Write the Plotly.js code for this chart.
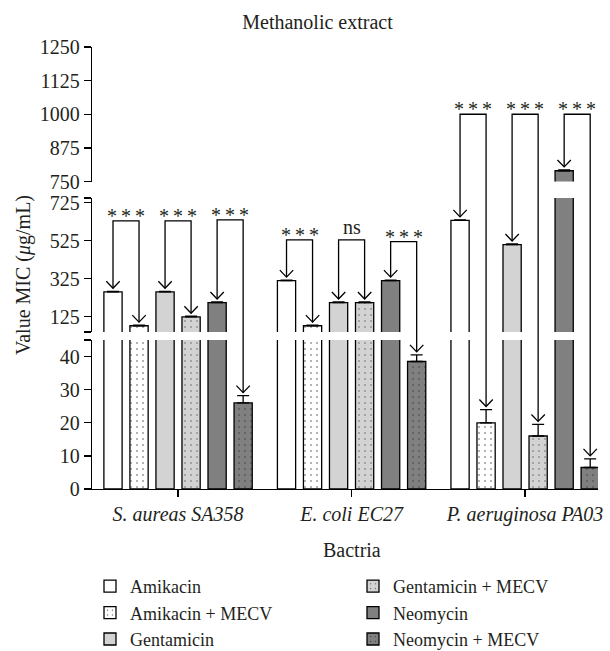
<!DOCTYPE html>
<html><head><meta charset="utf-8">
<script src="https://cdn.plot.ly/plotly-3.0.1.min.js"></script>
<style>body{margin:0;background:#fff}</style>
</head><body><div id="chart" style="width:610px;height:651px"></div>
<script>
const categories = ['S. aureas SA358', 'E. coli EC27', 'P. aeruginosa PA03'];
const seriesNames = ['Amikacin', 'Amikacin + MECV', 'Gentamicin', 'Gentamicin + MECV', 'Neomycin', 'Neomycin + MECV'];
const amikacin = [256, 315, 632];
const amikacinMECV = [78, 78, 20];
const gentamicin = [256, 200, 505];
const gentamicinMECV = [125, 200, 16];
const neomycin = [200, 315, 790];
const neomycinMECV = [26, 38.5, 6.5];
const amikacinErr = [3, 3, 3];
const amikacinMECVErr = [3, 3, 4];
const gentamicinErr = [3, 3, 3];
const gentamicinMECVErr = [3, 3, 3.5];
const neomycinErr = [3, 3, 3];
const neomycinMECVErr = [2.2, 2, 2.6];
const tickBottom = [0, 10, 20, 30, 40];
const tickMiddle = [125, 325, 525, 725];
const tickTop = [750, 875, 1000, 1125, 1250];
const breakLow = 45, breakHigh = 750, yMax = 1250;
const sigLabels = [['***', '***', '***'], ['***', 'ns', '***'], ['***', '***', '***']];
const bracketLevels = [[630, 630, 635], [530, 530, 520], [1000, 1000, 1000]];

const values = [amikacin, amikacinMECV, gentamicin, gentamicinMECV, neomycin, neomycinMECV];
const errors = [amikacinErr, amikacinMECVErr, gentamicinErr, gentamicinMECVErr, neomycinErr, neomycinMECVErr];

const FONT = '"Liberation Serif", "Times New Roman", serif';
const TXT = '#231f20';
const W = 610, H = 651;
const margin = {l: 92, r: 12, t: 47, b: 162};
const plotW = W - margin.l - margin.r, plotH = H - margin.t - margin.b;
const xRange = [-0.496, 2.42];
const bargap = 0.1, bargroupgap = 0.3;
const slot = (1 - bargap) / 6;

const segments = [
  {axis: 'y', key: 'yaxis', range: [0, breakLow], domain: [0, 0.3371]},
  {axis: 'y2', key: 'yaxis2', range: [breakLow, breakHigh], domain: [0.3552, 0.6584]},
  {axis: 'y3', key: 'yaxis3', range: [breakHigh, yMax], domain: [0.6957, 1]}
];
function toPaper(v) {
  const s = v <= breakLow ? segments[0] : (v <= breakHigh ? segments[1] : segments[2]);
  return s.domain[0] + (v - s.range[0]) / (s.range[1] - s.range[0]) * (s.domain[1] - s.domain[0]);
}
const xPx = plotW / (xRange[1] - xRange[0]);
const pxY = 1 / plotH;

const styles = [
  {color: 'white'},
  {color: 'white', pattern: {shape: '.', fgcolor: '#555', bgcolor: 'white', size: 6, solidity: 0.06}},
  {color: '#d3d3d3'},
  {color: '#d3d3d3', pattern: {shape: '.', fgcolor: '#666', bgcolor: '#d3d3d3', size: 6, solidity: 0.06}},
  {color: '#808080'},
  {color: '#808080', pattern: {shape: '.', fgcolor: '#404040', bgcolor: '#808080', size: 6, solidity: 0.06}}
];

const traces = [];
segments.forEach((seg, si) => {
  values.forEach((vals, k) => {
    const marker = {color: styles[k].color, line: {color: 'black', width: 1.3}};
    if (styles[k].pattern) marker.pattern = styles[k].pattern;
    traces.push({
      type: 'bar', x: [0, 1, 2], y: vals, xaxis: 'x', yaxis: seg.axis,
      name: seriesNames[k], marker: marker,
      error_y: {type: 'data', array: errors[k], arrayminus: [0, 0, 0], symmetric: false,
                color: 'black', thickness: 1.3, width: 6},
      showlegend: si === 0, legend: k < 3 ? 'legend' : 'legend2',
      hoverinfo: 'skip'
    });
  });
});

const shapes = [];
const annotations = [];
const dx = 6.7 / xPx, chevH = 7 * pxY, gap = 3 * pxY;
for (let c = 0; c < categories.length; c++) {
  for (let p = 0; p < 3; p++) {
    const ia = 2 * p, ib = 2 * p + 1;
    const xa = c + (ia - 2.5) * slot, xb = c + (ib - 2.5) * slot;
    const ta = toPaper(values[ia][c] + errors[ia][c]) + gap;
    const tb = toPaper(values[ib][c] + errors[ib][c]) + gap;
    const yb = toPaper(bracketLevels[c][p]);
    shapes.push({type: 'path', xref: 'x', yref: 'paper', line: {color: 'black', width: 1.3},
      path: `M${xa},${ta} L${xa},${yb} L${xb},${yb} L${xb},${tb}`});
    [[xa, ta], [xb, tb]].forEach(([x, t]) => {
      shapes.push({type: 'path', xref: 'x', yref: 'paper', line: {color: 'black', width: 1.3},
        path: `M${x - dx},${t + chevH} L${x},${t} L${x + dx},${t + chevH}`});
    });
    const lab = sigLabels[c][p];
    annotations.push({xref: 'x', yref: 'paper', x: (xa + xb) / 2, y: yb, yanchor: 'bottom',
      text: lab === '***' ? '*\u2009*\u2009*' : lab, showarrow: false, yshift: lab === '***' ? -8 : 0,
      font: {family: FONT, size: 20, color: TXT}});
  }
}
annotations.push({xref: 'paper', yref: 'paper', x: (23 - margin.l) / plotW, y: (489 - 275) / plotH,
  xanchor: 'center', yanchor: 'middle', textangle: -90, showarrow: false,
  text: 'Value MIC (<i>μ</i>g/mL)', font: {family: FONT, size: 20, color: TXT}});
annotations.push({xref: 'paper', yref: 'paper', x: (351.5 - margin.l) / plotW, y: -(550 - 489) / plotH,
  xanchor: 'center', yanchor: 'middle', showarrow: false,
  text: 'Bactria', font: {family: FONT, size: 20, color: TXT}});

const axisCommon = {showline: true, linecolor: 'black', linewidth: 1.3, ticks: 'outside', ticklen: 7,
  tickwidth: 1.3, tickcolor: 'black', showgrid: false, zeroline: false, fixedrange: true,
  tickfont: {family: FONT, size: 20, color: TXT}};

const legendCommon = {y: -(568 - 489) / plotH, xanchor: 'left', yanchor: 'top', orientation: 'v',
  font: {family: FONT, size: 18, color: TXT}, bgcolor: 'rgba(0,0,0,0)'};

const layout = {
  width: W, height: H, margin: Object.assign({}, margin, {autoexpand: false}),
  paper_bgcolor: 'white', plot_bgcolor: 'white',
  barmode: 'group', bargap: bargap, bargroupgap: bargroupgap,
  title: {text: 'Methanolic extract', xref: 'paper', x: (317.5 - margin.l) / plotW, xanchor: 'center',
          y: 1 - 22 / H, yanchor: 'middle', font: {family: FONT, size: 20, color: TXT}},
  xaxis: Object.assign({}, axisCommon, {anchor: 'y', range: xRange, tickvals: [0, 1, 2],
          ticktext: categories.map(c => '<i>' + c + '</i>')}),
  shapes: shapes, annotations: annotations,
  legend: Object.assign({x: (90 - margin.l) / plotW}, legendCommon),
  legend2: Object.assign({x: (353 - margin.l) / plotW}, legendCommon)
};
const segTicks = [
  {vals: tickBottom.concat([breakLow]), text: tickBottom.map(String).concat([''])},
  {vals: [breakLow].concat(tickMiddle, [breakHigh]), text: [''].concat(tickMiddle.map(String), [''])},
  {vals: tickTop, text: tickTop.map(String)}
];
segments.forEach((seg, si) => {
  layout[seg.key] = Object.assign({}, axisCommon, {anchor: 'x', domain: seg.domain, range: seg.range,
    tickmode: 'array', tickvals: segTicks[si].vals, ticktext: segTicks[si].text});
});

Plotly.newPlot('chart', traces, layout, {displayModeBar: false, staticPlot: true});
</script></body></html>
